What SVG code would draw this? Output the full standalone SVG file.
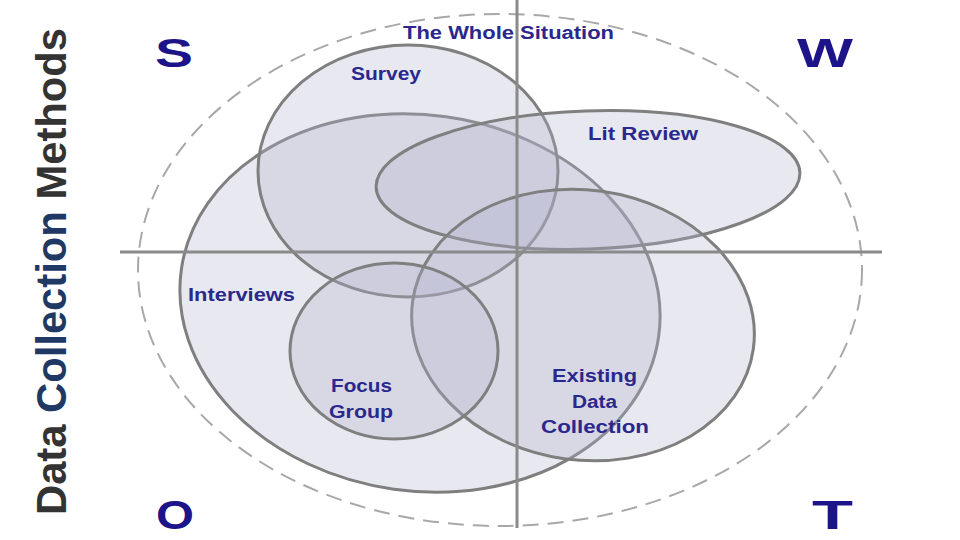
<svg xmlns="http://www.w3.org/2000/svg" width="960" height="540" viewBox="0 0 960 540">
<style>
.bg{fill:#ffffff}
.set{fill:#b4b4cc;fill-opacity:0.3;stroke:#7f7f7f;stroke-width:3}
.whole{fill:none;stroke:#a8a8a8;stroke-width:2;stroke-dasharray:16 9}
.axis{stroke:#8a8a8a;stroke-width:3}
.lbl{font-family:"Liberation Sans",Arial,sans-serif;font-weight:bold;font-size:18px;fill:#2a288c}
.swot{font-family:"Liberation Sans",Arial,sans-serif;font-weight:bold;font-size:40px;fill:#1c1488}
.title{font-family:"Liberation Sans",Arial,sans-serif;font-weight:bold;font-size:42px;fill:#333333}
</style>
<rect class="bg" x="0" y="0" width="960" height="540"/>
<g id="whole-situation">
<ellipse class="whole" cx="500" cy="270" rx="362" ry="256"/>
</g>
<g id="interviews"><ellipse class="set" cx="420" cy="303" rx="241" ry="188" transform="rotate(8 420 303)"/></g>
<g id="survey"><ellipse class="set" cx="408" cy="171" rx="150" ry="126"/></g>
<g id="lit-review"><ellipse class="set" cx="588" cy="180" rx="212" ry="69" transform="rotate(-2 588 180)"/></g>
<g id="existing-data"><ellipse class="set" cx="583" cy="325" rx="172" ry="135" transform="rotate(8 583 325)"/></g>
<g id="focus-group"><ellipse class="set" cx="394" cy="351" rx="104" ry="88"/></g>
<g id="axes">
<line class="axis" x1="120" y1="252" x2="882" y2="252"/>
<line class="axis" x1="517" y1="0" x2="517" y2="528"/>
</g>
<g id="labels">
<text class="lbl" x="403" y="39" textLength="211" lengthAdjust="spacingAndGlyphs">The Whole Situation</text>
<text class="lbl" x="351" y="80" textLength="70" lengthAdjust="spacingAndGlyphs">Survey</text>
<text class="lbl" x="588" y="140" textLength="110" lengthAdjust="spacingAndGlyphs">Lit Review</text>
<text class="lbl" x="188" y="301" textLength="107" lengthAdjust="spacingAndGlyphs">Interviews</text>
<text class="lbl" x="331" y="392" textLength="61" lengthAdjust="spacingAndGlyphs">Focus</text>
<text class="lbl" x="329" y="418" textLength="64" lengthAdjust="spacingAndGlyphs">Group</text>
<text class="lbl" x="552" y="382" textLength="85" lengthAdjust="spacingAndGlyphs">Existing</text>
<text class="lbl" x="572" y="408" textLength="45" lengthAdjust="spacingAndGlyphs">Data</text>
<text class="lbl" x="541" y="433" textLength="108" lengthAdjust="spacingAndGlyphs">Collection</text>
</g>
<g id="swot">
<text class="swot" x="155" y="67" textLength="38" lengthAdjust="spacingAndGlyphs">S</text>
<text class="swot" x="797" y="67" textLength="56" lengthAdjust="spacingAndGlyphs">W</text>
<text class="swot" x="156" y="529" textLength="38" lengthAdjust="spacingAndGlyphs">O</text>
<text class="swot" x="812" y="529" textLength="41" lengthAdjust="spacingAndGlyphs">T</text>
</g>
<g id="title">
<text class="title" transform="translate(66,515) rotate(-90)" textLength="487" lengthAdjust="spacingAndGlyphs">Data <tspan fill="#1f3864">Collection</tspan> Methods</text>
</g>
</svg>
